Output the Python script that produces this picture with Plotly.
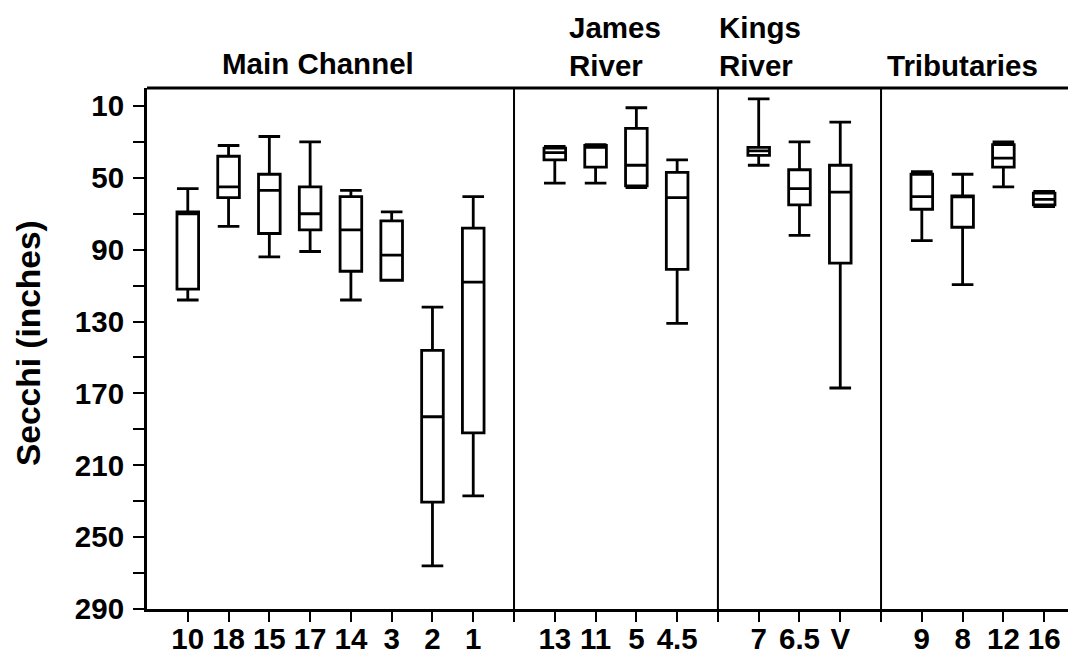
import plotly.graph_objects as go

# ---- data (Secchi depth, inches) ----
stations = ["10", "18", "15", "17", "14", "3", "2", "1",
            "13", "11", "5", "4.5",
            "7", "6.5", "V",
            "9", "8", "12", "16"]
slots = [1, 2, 3, 4, 5, 6, 7, 8,
         10, 11, 12, 13,
         15, 16, 17,
         19, 20, 21, 22]
whisker_low = [56, 32, 27, 30, 57, 69, 122, 60.5,
               32.5, 31.5, 11, 40,
               6, 30, 19,
               46.5, 48, 30, 57.5]
q1_vals = [69, 38, 48, 55, 60.5, 74, 146, 78,
           33.5, 32, 22.5, 47,
           33, 45.5, 43,
           48, 60, 31.5, 58.5]
median_vals = [70, 55, 57, 70, 79, 93, 183, 108,
               36, 33, 43, 61,
               35, 56, 58,
               60.5, 60, 39, 62]
q3_vals = [112, 61, 81, 79, 102, 107, 230.5, 192,
           40, 44, 54.5, 101,
           37.5, 65, 97.5,
           67.5, 77.5, 44, 65]
whisker_high = [118, 77, 94, 91, 118, 107, 266, 227,
                53, 53, 55.5, 131,
                43, 82, 167,
                85, 109.5, 55, 66]

group_dividers = [9, 14, 18]
header_lines = [("Main Channel", 1.8, 55),
                ("James", 10.3, 19), ("River", 10.3, 57),
                ("Kings", 13.98, 19), ("River", 13.98, 57),
                ("Tributaries", 18.1, 57)]

y_tickvals = [10, 30, 50, 70, 90, 110, 130, 150, 170, 190, 210, 230, 250, 270, 290]
y_ticktext = ["10", "", "50", "", "90", "", "130", "", "170", "", "210", "", "250", "", "290"]
x_tickvals = list(range(1, 23))
_lab = dict(zip(slots, stations))
x_ticktext = [_lab.get(v, "") for v in x_tickvals]
y_title = "Secchi (inches)"

# ---- figure (page body has an 8px margin, so figure is sized to fit) ----
W, H = 1068, 653
ML, MT, MB = 139, 80, 52
slot_px = 40.78
x_max = (W - ML) / slot_px
plot_w = W - ML
plot_h = H - MT - MB

fig = go.Figure()
for i in range(len(stations)):
    fig.add_trace(go.Box(
        x=[slots[i]],
        q1=[q1_vals[i]], median=[median_vals[i]], q3=[q3_vals[i]],
        lowerfence=[whisker_low[i]], upperfence=[whisker_high[i]],
        width=0.53, whiskerwidth=1,
        line=dict(color="black", width=2.8),
        fillcolor="rgba(0,0,0,0)",
        boxpoints=False, hoverinfo="skip", showlegend=False,
    ))

font_fam = "Liberation Sans, Arial, sans-serif"
lab_size = 29.5

for xv in group_dividers:
    fig.add_shape(type="line", xref="x", yref="paper", x0=xv, x1=xv, y0=0, y1=1,
                  line=dict(color="black", width=2))
fig.add_shape(type="line", xref="paper", yref="paper", x0=0, x1=1, y0=1, y1=1,
              line=dict(color="black", width=3))

for txt, xv, ypx in header_lines:
    fig.add_annotation(text=txt, x=xv, xref="x", xanchor="left",
                       y=1 + (MT - ypx) / plot_h, yref="paper", yanchor="middle",
                       showarrow=False,
                       font=dict(family=font_fam, size=lab_size, color="black", weight="bold"))

fig.add_annotation(text=y_title, textangle=-90,
                   x=(20 - ML) / plot_w, xref="paper", xanchor="center",
                   y=1 - (335 - MT) / plot_h, yref="paper", yanchor="middle",
                   showarrow=False,
                   font=dict(family=font_fam, size=33.5, color="black", weight="bold"))

fig.update_layout(
    width=W, height=H,
    margin=dict(l=ML, r=0, t=MT, b=MB, pad=0),
    plot_bgcolor="white", paper_bgcolor="white",
    boxgap=0,
)
fig.update_xaxes(
    range=[0, x_max], tickmode="array", tickvals=x_tickvals, ticktext=x_ticktext,
    ticks="outside", ticklen=10, tickwidth=2, tickcolor="black",
    ticklabelstandoff=-8,
    showline=True, linecolor="black", linewidth=3, showgrid=False, zeroline=False,
    tickfont=dict(family=font_fam, size=lab_size, color="black", weight="bold"),
)
fig.update_yaxes(
    range=[290, 0], tickmode="array", tickvals=y_tickvals, ticktext=y_ticktext,
    ticks="outside", ticklen=11, tickwidth=2, tickcolor="black",
    ticklabelstandoff=3,
    showline=True, linecolor="black", linewidth=3, showgrid=False, zeroline=False,
    tickfont=dict(family=font_fam, size=lab_size, color="black", weight="bold"),
)

fig.write_html("out.html")
